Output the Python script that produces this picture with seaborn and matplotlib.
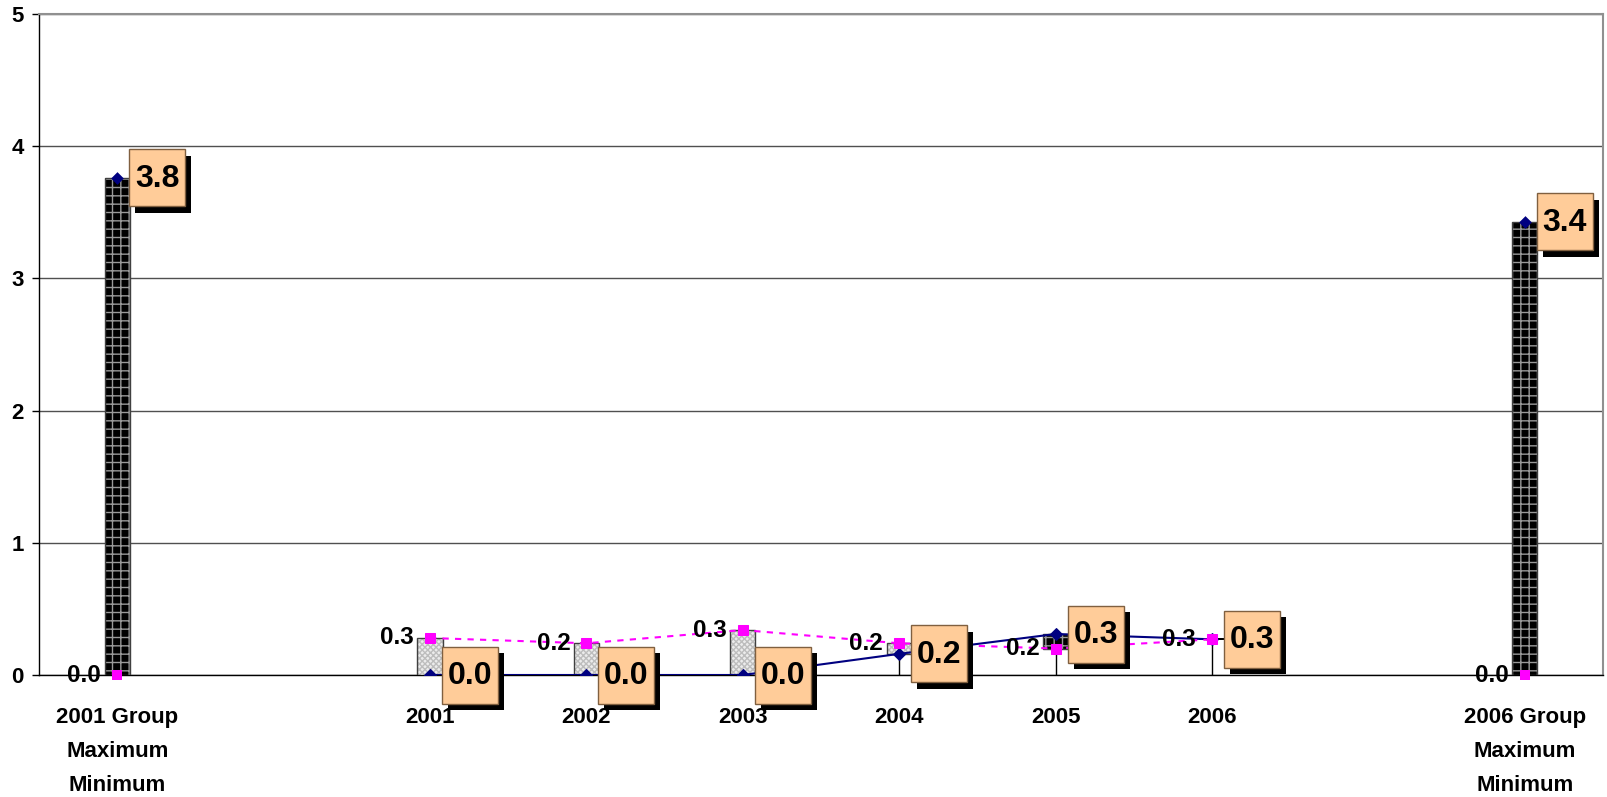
import numpy as np
import pandas as pd
import matplotlib
matplotlib.use("Agg")
import matplotlib.pyplot as plt
import matplotlib.transforms as mtransforms
from matplotlib.patches import Rectangle
import seaborn as sns

# ---------------- data ----------------
categories = ["2001 Group\nMaximum\nMinimum", "", "2001", "2002", "2003",
              "2004", "2005", "2006", "", "2006 Group\nMaximum\nMinimum"]
blue_values = [3.76, np.nan, 0.0, 0.0, 0.0, 0.16, 0.31, 0.27, np.nan, 3.43]
magenta_values = [0.0, np.nan, 0.28, 0.24, 0.34, 0.24, 0.20, 0.27, np.nan, 0.0]
low_values = [0.0, np.nan, 0.0, 0.0, 0.0, 0.0, 0.0, 0.0, np.nan, 0.0]
y_ticks = [0, 1, 2, 3, 4, 5]
line_idx = [2, 3, 4, 5, 6, 7]      # points joined by the lines
group_idx = [0, 9]                 # stand-alone group points

sns.set_style("white")
plt.rcParams["font.family"] = ["Liberation Sans", "DejaVu Sans"]
plt.rcParams["text.color"] = "black"
plt.rcParams["xtick.labelcolor"] = "black"
plt.rcParams["ytick.labelcolor"] = "black"

W, H = 1607, 797
fig = plt.figure(figsize=(W / 100, H / 100), dpi=100)
ax = fig.add_axes([39 / W, 122 / H, 1564 / W, 661 / H])

x = np.arange(len(categories))
df = pd.DataFrame({"x": x, "cat": categories, "blue": blue_values,
                   "magenta": magenta_values, "low": low_values})
valid = df.dropna()

# high-low lines
hi = np.maximum(valid["blue"], valid["magenta"])
ax.vlines(valid["x"], valid["low"], hi, color="black", lw=1, zorder=2)

# up / down bars
bw = 0.16
for _, r in valid.iterrows():
    b, m = r["blue"], r["magenta"]
    bottom, height = min(b, m), abs(b - m)
    if m > b:
        ax.bar(r["x"], height, bottom=bottom, width=bw, color="#ececec",
               edgecolor="#bdbdbd", hatch="xxxxxx", lw=0, zorder=3)
        ax.bar(r["x"], height, bottom=bottom, width=bw, facecolor="none",
               edgecolor="#404040", lw=1, zorder=3)
    elif b > m:
        ax.bar(r["x"], height, bottom=bottom, width=bw, color="black",
               edgecolor="#9a9a9a", hatch="++", lw=0, zorder=3)
        ax.bar(r["x"], height, bottom=bottom, width=bw, facecolor="none",
               edgecolor="#404040", lw=1, zorder=3)
    else:
        ax.bar(r["x"], 0.014, bottom=bottom - 0.007, width=bw, color="black",
               lw=0, zorder=3)

# lines
ld = df.iloc[line_idx]
sns.lineplot(data=ld, x="x", y="blue", color="#000080", lw=1.5, marker="D",
             markersize=6.5, markeredgecolor="#000080", ax=ax, zorder=6)
sns.lineplot(data=ld, x="x", y="magenta", color="#FF00FF", lw=1.5, marker="s",
             markersize=7, markeredgecolor="#FF00FF", ax=ax, zorder=6)
ax.lines[-1].set_dashes([3, 3])
gd = df.iloc[group_idx]
sns.scatterplot(data=gd, x="x", y="blue", color="#000080", marker="D", s=42,
                linewidth=0, ax=ax, zorder=6, clip_on=False)
sns.scatterplot(data=gd, x="x", y="magenta", color="#FF00FF", marker="s", s=55,
                linewidth=0, ax=ax, zorder=7, clip_on=False)

# axes
ax.set_xlim(-0.5, len(categories) - 0.5)
ax.set_ylim(0, 5)
ax.set_yticks(y_ticks)
ax.set_yticklabels([str(t) for t in y_ticks], fontsize=16, fontweight="bold")
ax.set_xticks(x)
ax.set_xticklabels(categories, fontsize=16, fontweight="bold", linespacing=1.8)
ax.set_xticks(np.arange(-0.5, len(categories), 1), minor=True)
ax.tick_params(axis="x", which="major", length=0, pad=23)
ax.tick_params(axis="x", which="minor", length=6, width=1, color="black",
               direction="out")
ax.tick_params(axis="y", which="major", length=5, width=1, color="black",
               direction="out", left=True, pad=6)
ax.set_xlabel("")
ax.set_ylabel("")
ax.yaxis.grid(True, color="#505050", lw=1)
ax.xaxis.grid(False)
ax.set_axisbelow(True)
for s in ["left", "bottom"]:
    ax.spines[s].set_color("black")
    ax.spines[s].set_linewidth(1)
for s in ["right", "top"]:
    ax.spines[s].set_color("#909090")
    ax.spines[s].set_linewidth(1.5)
    ax.spines[s].set_zorder(2.5)


# labels
def anchor(xd, yd):
    return mtransforms.Affine2D() + mtransforms.ScaledTranslation(xd, yd, ax.transData)


for _, r in valid.iterrows():
    tr = anchor(r["x"], r["blue"])
    ax.add_patch(Rectangle((18, -35), 56, 57, transform=tr, facecolor="black",
                           lw=0, zorder=8, clip_on=False))
    ax.add_patch(Rectangle((12, -28.5), 56, 57, transform=tr, facecolor="#FFCC99",
                           edgecolor="#806040", lw=1, zorder=9, clip_on=False))
    ax.text(40, -1, f"{r['blue']:.1f}", transform=tr, ha="center", va="center",
            fontsize=23, fontweight="bold", zorder=10, clip_on=False)
    tr2 = anchor(r["x"], r["magenta"])
    ax.text(-16, 0, f"{r['magenta']:.1f}", transform=tr2, ha="right", va="center",
            fontsize=17.5, fontweight="bold", zorder=10, clip_on=False)

fig.savefig("out.png", dpi=100)
